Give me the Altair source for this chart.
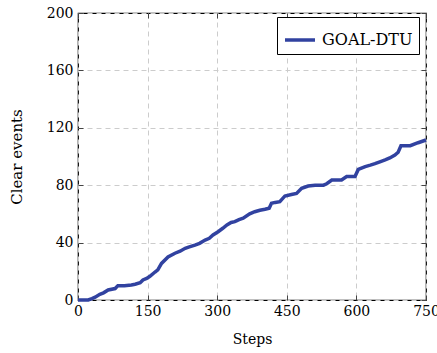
import altair as alt
import pandas as pd

steps = [0, 22, 30, 37, 47, 55, 65, 80, 86, 100,
         115, 123, 134, 140, 148, 155, 166, 172, 180, 194,
         209, 220, 231, 240, 252, 262, 274, 283, 291, 302,
         312, 321, 330, 338, 347, 356, 370, 381, 392, 403,
         412, 417, 425, 435, 446, 460, 471, 482, 496, 511,
         529, 536, 547, 568, 579, 597, 604, 619, 630, 640,
         652, 662, 672, 683, 690, 696, 716, 733, 750]
events = [0, 0, 1, 2, 4, 5, 7, 8, 10, 10,
          10.5, 11, 12, 14, 15, 16.5, 19.5, 21, 25.5, 30,
          32.6, 34, 36, 37, 38.3, 39.5, 41.8, 43, 45.3, 47.6,
          50, 52.3, 54, 54.6, 56, 57, 60, 61.5, 62.5, 63.2,
          64, 67.4, 68, 68.5, 72.5, 73.5, 74.3, 77.8, 79.4, 80,
          80, 81, 83.6, 83.6, 86, 86, 91, 93, 94, 95,
          96.5, 97.6, 99, 101, 103, 107.5, 107.5, 109.6, 111.5]
series_name = "GOAL-DTU"
x_ticks = [0, 150, 300, 450, 600, 750]
y_ticks = [0, 40, 80, 120, 160, 200]

df = pd.DataFrame({"step": steps, "events": events, "series": [series_name] * len(steps)})

FONT = "DejaVu Serif"
FS = 14
LINE_COLOR = "#3142a0"
TICK_COLOR = "#444444"

xscale = alt.Scale(domain=[0, 750], nice=False, zero=False)
yscale = alt.Scale(domain=[0, 200], nice=False, zero=False)

base = alt.Chart(df)

main = base.mark_line(strokeWidth=3.5).encode(
    x=alt.X("step:Q", scale=xscale, title="Steps",
            axis=alt.Axis(values=x_ticks, grid=True, gridDash=[5, 4], gridColor="#cccccc",
                          ticks=False, domain=False, labelPadding=4, titlePadding=14,
                          labelFlush=False,
                          labelFontSize=FS, titleFontSize=FS, labelFont=FONT, titleFont=FONT,
                          titleFontWeight="normal", labelColor="black", titleColor="black")),
    y=alt.Y("events:Q", scale=yscale, title="Clear events",
            axis=alt.Axis(values=y_ticks, grid=True, gridDash=[5, 4], gridColor="#cccccc",
                          ticks=False, domain=False, labelPadding=5, titlePadding=22,
                          labelFlush=False,
                          labelFontSize=FS, titleFontSize=15, labelFont=FONT, titleFont=FONT,
                          titleFontWeight="normal", labelColor="black", titleColor="black")),
    color=alt.Color("series:N", scale=alt.Scale(range=[LINE_COLOR]), title=None),
)

ticks_bl = base.mark_line(opacity=0).encode(
    x=alt.X("step:Q", scale=xscale, title=None,
            axis=alt.Axis(values=x_ticks, orient="bottom", offset=-5, tickSize=5, labels=False,
                          domain=False, grid=False, tickColor=TICK_COLOR)),
    y=alt.Y("events:Q", scale=yscale, title=None,
            axis=alt.Axis(values=y_ticks, orient="left", offset=-5, tickSize=5, labels=False,
                          domain=False, grid=False, tickColor=TICK_COLOR)),
)

ticks_tr = base.mark_line(opacity=0).encode(
    x=alt.X("step:Q", scale=xscale, title=None,
            axis=alt.Axis(values=x_ticks, orient="top", offset=-5, tickSize=5, labels=False,
                          domain=False, grid=False, tickColor=TICK_COLOR)),
    y=alt.Y("events:Q", scale=yscale, title=None,
            axis=alt.Axis(values=y_ticks, orient="right", offset=-5, tickSize=5, labels=False,
                          domain=False, grid=False, tickColor=TICK_COLOR)),
)

chart = alt.layer(main, ticks_bl, ticks_tr).resolve_axis(
    x="independent", y="independent"
).properties(
    width=348, height=287,
    autosize=alt.AutoSizeParams(type="none"),
    padding={"left": 78, "top": 13, "right": 11, "bottom": 53},
    background="white",
).configure_view(
    stroke="black", strokeWidth=1.2
).configure_legend(
    orient="none", legendX=199, legendY=4,
    strokeColor="black", fillColor="white", padding=6,
    symbolType="stroke", symbolSize=900, symbolStrokeWidth=3.5,
    labelFont=FONT, labelFontSize=16, labelColor="black",
    labelOffset=5, labelLimit=300,
)

chart.save("out.html", embed_options={"renderer": "svg", "actions": False})
